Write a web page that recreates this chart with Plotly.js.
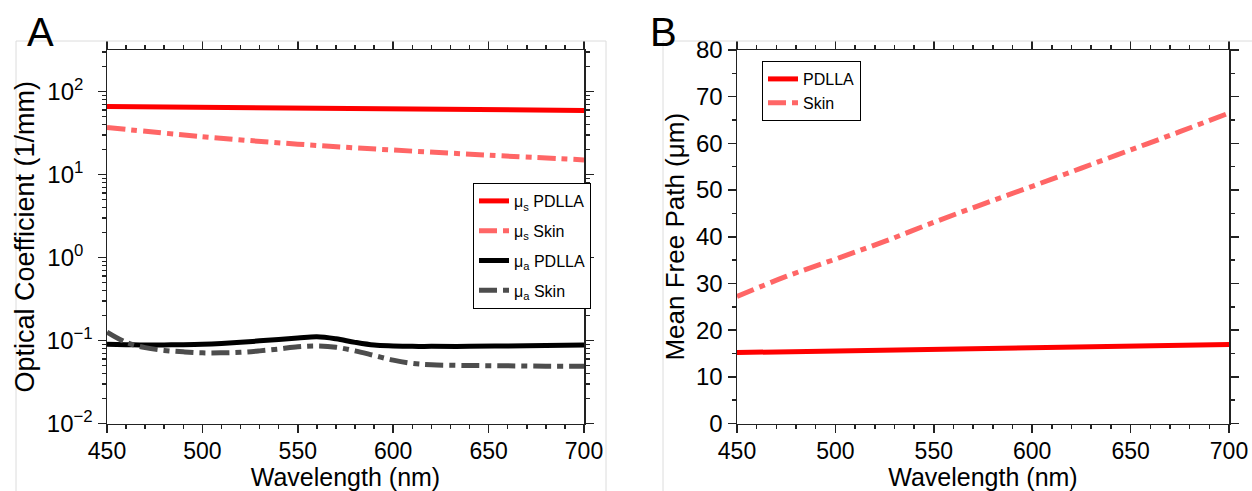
<!DOCTYPE html>
<html>
<head>
<meta charset="utf-8">
<script src="https://cdn.plot.ly/plotly-3.0.1.min.js"></script>
<style>html,body{margin:0;padding:0;background:#fff;}#chart{width:1252px;height:491px;}</style>
</head>
<body>
<div id="chart"></div>
<script>
// ---- Panel A: optical coefficients (1/mm) ----
const wlScatter = [450, 500, 550, 600, 650, 700];
const musPDLLA = [66, 64.5, 63.2, 61.8, 60.3, 59.2];
const musSkin = [36.8, 28.6, 23.2, 19.7, 17.1, 15.0];

const wlAbs = [450, 460, 470, 480, 490, 500, 510, 520, 530, 540, 550, 560, 570, 580, 590, 600, 610, 620, 640, 660, 680, 700];
const muaPDLLA = [0.090, 0.089, 0.088, 0.0885, 0.089, 0.090, 0.092, 0.095, 0.099, 0.103, 0.107, 0.111, 0.105, 0.095, 0.088, 0.086, 0.085, 0.085, 0.085, 0.086, 0.087, 0.088];
const muaSkin = [0.126, 0.095, 0.082, 0.076, 0.073, 0.071, 0.071, 0.072, 0.075, 0.079, 0.084, 0.086, 0.083, 0.075, 0.066, 0.058, 0.053, 0.051, 0.050, 0.0495, 0.049, 0.049];

const yTickVals = [0.01, 0.1, 1, 10, 100];
const yTickText = ["10<sup>\u22122</sup>", "10<sup>\u22121</sup>", "10<sup>0\u00a0\u00a0</sup>", "10<sup>1\u00a0\u00a0</sup>", "10<sup>2\u00a0\u00a0</sup>"];
const yMinorVals = [0.02,0.03,0.04,0.05,0.06,0.07,0.08,0.09,0.2,0.3,0.4,0.5,0.6,0.7,0.8,0.9,2,3,4,5,6,7,8,9,20,30,40,50,60,70,80,90,200,300];

// ---- Panel B: mean free path (µm) ----
const wlMfp = [450, 475, 500, 525, 550, 575, 600, 625, 650, 675, 700];
const mfpPDLLA = [15.2, 15.35, 15.5, 15.65, 15.8, 16.0, 16.2, 16.4, 16.6, 16.75, 16.9];
const mfpSkin = [27.2, 31.5, 35.2, 39.0, 43.1, 47.0, 50.8, 54.7, 58.6, 62.5, 66.5];

const RED = '#ff0000', LRED = '#ff6666', BLACK = '#000000', DGRAY = '#4d4d4d';
const DASHDOT = '18px,6px,6px,6px';
const FONT = 'Liberation Sans, Arial, Helvetica, sans-serif';

const traces = [
  {x: wlScatter, y: musPDLLA, xaxis: 'x', yaxis: 'y', mode: 'lines', name: '\u03bc<sub>s</sub> PDLLA',
   line: {color: RED, width: 5}, legend: 'legend', legendgroup: 'a1'},
  {x: wlScatter, y: musSkin, xaxis: 'x', yaxis: 'y', mode: 'lines', name: '\u03bc<sub>s</sub> Skin',
   line: {color: LRED, width: 5, dash: DASHDOT, shape: 'spline'}, legend: 'legend', legendgroup: 'a2'},
  {x: wlAbs, y: muaPDLLA, xaxis: 'x', yaxis: 'y', mode: 'lines', name: '\u03bc<sub>a</sub> PDLLA',
   line: {color: BLACK, width: 5, shape: 'spline'}, legend: 'legend', legendgroup: 'a3'},
  {x: wlAbs, y: muaSkin, xaxis: 'x', yaxis: 'y', mode: 'lines', name: '\u03bc<sub>a</sub> Skin',
   line: {color: DGRAY, width: 5, dash: DASHDOT, shape: 'spline'}, legend: 'legend', legendgroup: 'a4'},
  {x: wlMfp, y: mfpPDLLA, xaxis: 'x2', yaxis: 'y2', mode: 'lines', name: 'PDLLA',
   line: {color: RED, width: 5}, legend: 'legend2'},
  {x: wlMfp, y: mfpSkin, xaxis: 'x2', yaxis: 'y2', mode: 'lines', name: 'Skin',
   line: {color: LRED, width: 5, dash: DASHDOT, shape: 'spline'}, legend: 'legend2'}
];

const axCommon = {
  showgrid: false, zeroline: false, showline: true, linecolor: '#222', linewidth: 1.5,
  mirror: 'ticks', ticks: 'outside', ticklen: 8, tickwidth: 1.5, tickcolor: '#222',
  tickfont: {size: 24, color: '#000', family: FONT}
};
const yTop = 1 - 50/491, yBot = 1 - 423.5/491;

const layout = {
  width: 1252, height: 491,
  margin: {l: 0, r: 0, t: 0, b: 0},
  paper_bgcolor: '#fff', plot_bgcolor: '#fff',
  font: {family: FONT, color: '#000'},
  xaxis: Object.assign({}, axCommon, {
    domain: [107/1252, 584/1252], range: [450, 700], anchor: 'y',
    tickmode: 'linear', tick0: 450, dtick: 50, ticklabelstandoff: -2,
    tickfont: {size: 23, color: '#000', family: FONT},
    minor: {dtick: 10, ticks: 'outside', ticklen: 4, tickwidth: 1.5, tickcolor: '#222'},
    title: {text: 'Wavelength (nm)', font: {size: 25, family: FONT}, standoff: 9}
  }),
  yaxis: Object.assign({}, axCommon, {
    domain: [yBot, yTop], type: 'log', range: [-2, 2.5], anchor: 'x',
    tickmode: 'array', tickvals: yTickVals, ticktext: yTickText,
    minor: {tickvals: yMinorVals, ticks: 'outside', ticklen: 4, tickwidth: 1.5, tickcolor: '#222'},
    title: {text: 'Optical Coefficient (1/mm)', font: {size: 27, family: FONT}, standoff: 4}
  }),
  xaxis2: Object.assign({}, axCommon, {
    domain: [737/1252, 1229/1252], range: [450, 700], anchor: 'y2',
    tickmode: 'linear', tick0: 450, dtick: 50, ticklabelstandoff: -2,
    tickfont: {size: 23, color: '#000', family: FONT},
    minor: {dtick: 10, ticks: 'outside', ticklen: 4, tickwidth: 1.5, tickcolor: '#222'},
    title: {text: 'Wavelength (nm)', font: {size: 25, family: FONT}, standoff: 9}
  }),
  yaxis2: Object.assign({}, axCommon, {
    domain: [yBot, yTop], range: [0, 80], anchor: 'x2',
    tickmode: 'linear', tick0: 0, dtick: 10,
    minor: {dtick: 5, ticks: 'outside', ticklen: 4, tickwidth: 1.5, tickcolor: '#222'},
    title: {text: 'Mean Free Path (\u03bcm)', font: {size: 26, family: FONT}, standoff: 4}
  }),
  legend: {
    x: 473/1252, y: 1 - 183/491, xanchor: 'left', yanchor: 'top',
    bgcolor: '#fff', bordercolor: '#000', borderwidth: 1,
    font: {size: 16, family: FONT, color: '#000'},
    traceorder: 'grouped', tracegroupgap: 6, itemwidth: 30
  },
  legend2: {
    x: 762/1252, y: 1 - 61/491, xanchor: 'left', yanchor: 'top',
    bgcolor: '#fff', bordercolor: '#000', borderwidth: 1,
    font: {size: 16, family: FONT, color: '#000'}, itemwidth: 30
  },
  shapes: [
    {type: 'line', xref: 'paper', yref: 'paper', x0: 16/1252, x1: 16/1252, y0: 0, y1: 1 - 41/491, line: {color: '#dcdcdc', width: 1}},
    {type: 'line', xref: 'paper', yref: 'paper', x0: 16/1252, x1: 606/1252, y0: 1 - 41/491, y1: 1 - 41/491, line: {color: '#dcdcdc', width: 1}},
    {type: 'line', xref: 'paper', yref: 'paper', x0: 606/1252, x1: 606/1252, y0: 0, y1: 1 - 41/491, line: {color: '#dcdcdc', width: 1}},
    {type: 'line', xref: 'paper', yref: 'paper', x0: 663/1252, x1: 663/1252, y0: 0, y1: 1 - 41/491, line: {color: '#dcdcdc', width: 1}},
    {type: 'line', xref: 'paper', yref: 'paper', x0: 663/1252, x1: 1, y0: 1 - 41/491, y1: 1 - 41/491, line: {color: '#dcdcdc', width: 1}}
  ],
  annotations: [
    {text: 'A', xref: 'paper', yref: 'paper', x: 40/1252, y: 1 - 32/491, xanchor: 'center', yanchor: 'middle', showarrow: false, font: {size: 40, family: FONT, color: '#000'}},
    {text: 'B', xref: 'paper', yref: 'paper', x: 663/1252, y: 1 - 32/491, xanchor: 'center', yanchor: 'middle', showarrow: false, font: {size: 40, family: FONT, color: '#000'}}
  ]
};

Plotly.newPlot('chart', traces, layout, {displayModeBar: false, staticPlot: true});
</script>
</body>
</html>
